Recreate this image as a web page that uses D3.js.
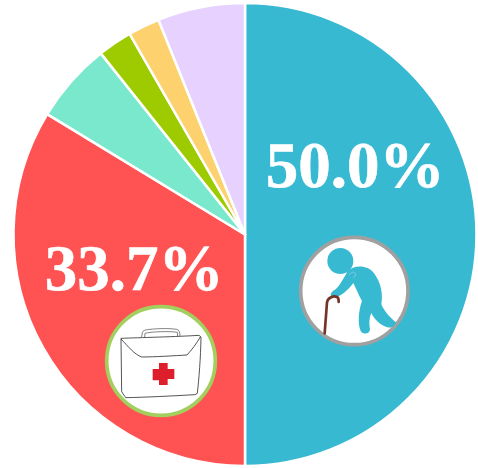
<!DOCTYPE html>
<html><head><meta charset="utf-8">
<script src="https://cdn.jsdelivr.net/npm/d3@7"></script>
<style>html,body{margin:0;padding:0;background:#fff}svg{display:block}text{text-rendering:geometricPrecision}</style>
</head><body><svg id="c" width="478" height="468"></svg>
<script>
const categories = ["Elderly","Medical","Teal","Green","Yellow","Purple"];
const values = [50.0,33.7,5.6,2.4,2.2,6.1];
const colors = ["#38b9d2","#ff5252","#7ae8cd","#9ecb00","#fdd26e","#e6d1ff"];
const labels = [{i:0,text:"50.0%"},{i:1,text:"33.7%"}];

const svg = d3.select("#c");
const cx=245, cy=234.5, R=231.5;
const g = svg.append("g").attr("transform",`translate(${cx},${cy})`);
const pie = d3.pie().sort(null).value(d=>d);
const arc = d3.arc().innerRadius(0).outerRadius(R);
const color = d3.scaleOrdinal(categories,colors);
g.selectAll("path").data(pie(values)).join("path")
 .attr("d",arc).attr("fill",(d,i)=>color(categories[i]))
 .attr("stroke","#fff").attr("stroke-width",2.5).attr("stroke-linejoin","round");

const labelPos=[[355,186.5],[134,289.5]];
svg.selectAll("text").data(labels).join("text")
 .attr("x",(d,i)=>labelPos[i][0]).attr("y",(d,i)=>labelPos[i][1])
 .attr("text-anchor","middle").attr("fill","#fff").attr("stroke","#fff").attr("stroke-width",0.6)
 .attr("font-family","'Liberation Serif'").attr("font-weight","700").attr("font-size",65)
 .text(d=>d.text);

// elderly icon (drawn in 3x local units)
const e=svg.append("g").attr("transform","translate(290,225) scale(0.3333)");
e.append("circle").attr("cx",193).attr("cy",198).attr("r",161).attr("fill","#fff").attr("stroke","#a0a0a0").attr("stroke-width",11);
e.append("circle").attr("cx",151).attr("cy",108).attr("r",39).attr("fill","#38b9d2");
e.append("path").attr("d","M172 140 C190 120 232 118 252 145 C272 172 280 205 274 238 C285 262 300 278 318 292 C316 304 304 310 292 307 C270 300 254 284 244 264 C236 282 238 300 240 312 C240 328 220 330 212 318 C202 295 206 255 216 228 C206 210 198 190 190 174 C175 194 158 210 138 217 L122 212 C122 205 126 200 132 196 C146 188 158 165 172 140 Z").attr("fill","#38b9d2");
e.append("path").attr("d","M178 150 C182 142 192 138 197 146 C198 152 194 156 190 158").attr("fill","none").attr("stroke","#8fd8e6").attr("stroke-width",2);
e.append("path").attr("d","M104 325 L111 232 C113 216 132 212 141 216 C147 219 146 226 146 231").attr("fill","none").attr("stroke","#743526").attr("stroke-width",8).attr("stroke-linecap","round");

// medical icon (drawn in 3x local units)
const m=svg.append("g").attr("transform","translate(95,295) scale(0.3333)");
m.append("circle").attr("cx",198).attr("cy",198).attr("r",163).attr("fill","#fff").attr("stroke","#a2cf5e").attr("stroke-width",11);
m.append("path").attr("d","M140 126 L142 113 C144 106 150 105 165 103 C195 100 225 100 245 103 C253 105 255 112 255 124 M149 126 L150 115 C165 110 225 108 247 112 L248 123").attr("fill","none").attr("stroke","#444").attr("stroke-width",2);
m.append("path").attr("d","M78 130 C130 128 250 125 312 121 L318 126 C317 190 312 250 307 295 L300 299 C230 303 150 307 92 308 L80 290 Z").attr("fill","#fff").attr("stroke","#333").attr("stroke-width",2.5).attr("stroke-linejoin","round");
m.append("path").attr("d","M78 132 C100 155 118 178 140 186 C180 186 240 182 276 180 C290 165 305 145 316 126").attr("fill","none").attr("stroke","#333").attr("stroke-width",2.5);
m.append("path").attr("d","M192 204 L218 204 L218 222 L238 222 L238 252 L218 252 L218 270 L192 270 L192 256 L173 256 L173 222 L192 222 Z").attr("fill","#dc1f2b");
</script></body></html>
